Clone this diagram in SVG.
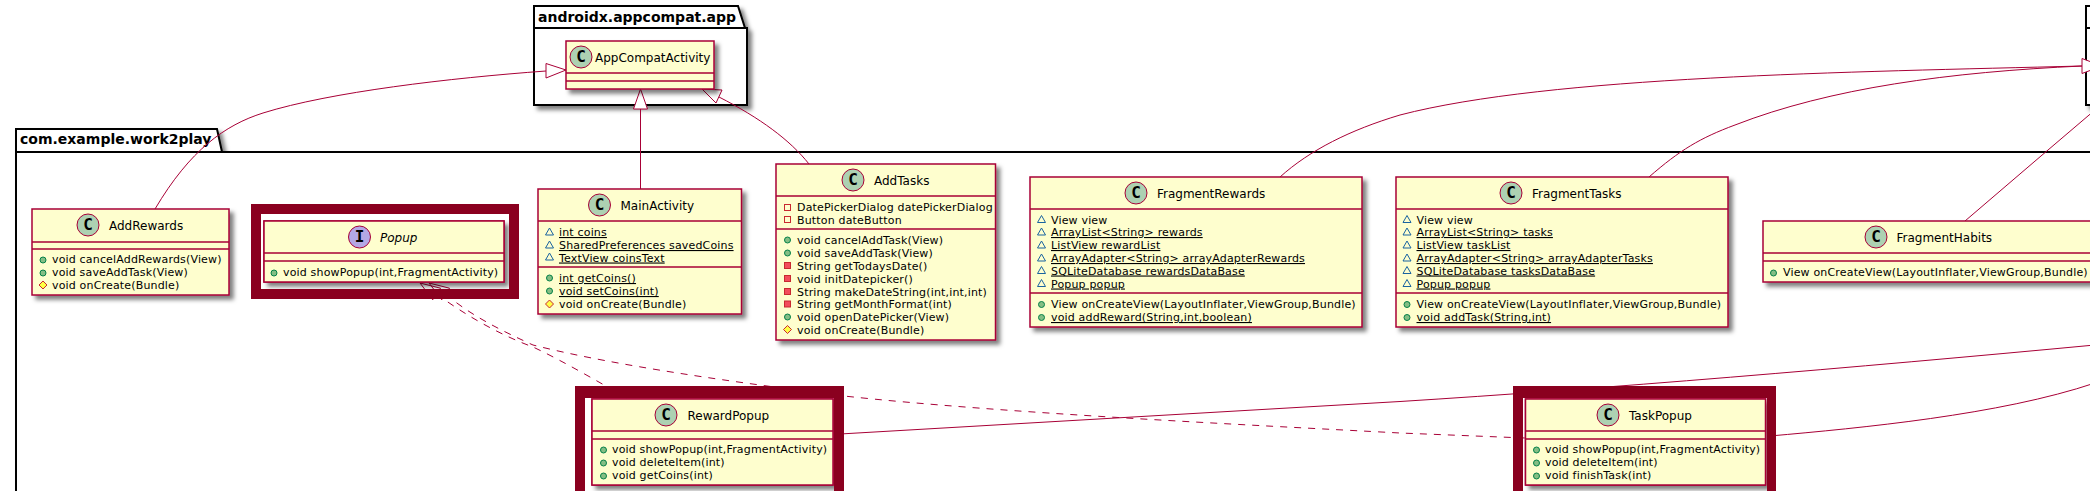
<svg xmlns="http://www.w3.org/2000/svg" width="2090" height="491" viewBox="0 0 2090 491">
<style>
text{font-family:"DejaVu Sans",sans-serif;fill:#000}
.pk{fill:#fff;stroke:#000;stroke-width:2}
.pl{fill:none;stroke:#000;stroke-width:2}
.pt{font-size:14px;font-weight:bold}
.c{fill:#FEFECE;stroke:#A80036;stroke-width:1.5}
.l{stroke:#A80036;stroke-width:1.5;fill:none}
.s{filter:url(#sh)}
.n{font-size:12px}
.i{font-style:italic}
.m{font-size:11px;letter-spacing:.17px}
.u{text-decoration:underline}
.bc{fill:#ADD1B2;stroke:#A80036;stroke-width:1}
.bi{fill:#B4A7E5;stroke:#A80036;stroke-width:1}
.bt{font-family:"DejaVu Sans Mono",monospace;font-size:16px;font-weight:bold;text-anchor:middle}
.e{fill:none;stroke:#A80036;stroke-width:1}
.h{fill:#fff;stroke:#A80036;stroke-width:1}
.d{fill:none;stroke:#A80036;stroke-width:1;stroke-dasharray:7,7}
.o{fill:none;stroke:#A80036;stroke-width:1}
.f{fill:#8A001F;fill-rule:evenodd}
.pub{fill:#84BE84;stroke:#038048;stroke-width:1}
.pro{fill:#FFFF44;stroke:#C82930;stroke-width:1}
.pkg{fill:none;stroke:#1963A0;stroke-width:1}
.prf{fill:none;stroke:#C82930;stroke-width:1}
.prm{fill:#F24D5C;stroke:#C82930;stroke-width:1}
</style>
<defs>
<filter id="sh" x="-5%" y="-5%" width="112%" height="125%"><feDropShadow dx="4" dy="4" stdDeviation="2" flood-color="#000" flood-opacity="0.5"/></filter>
<circle id="ipub" r="3" class="pub"/>
<polygon id="ipro" points="0,-4 4,0 0,4 -4,0" class="pro"/>
<polygon id="ipkg" points="0,-4 4,3 -4,3" class="pkg"/>
<rect id="iprf" x="-3" y="-3" width="6" height="6" class="prf"/>
<rect id="iprm" x="-3" y="-3" width="6" height="6" class="prm"/>
</defs>
<rect width="2090" height="491" fill="#fff"/>

<g id="package-com-example-work2play">
<path class="pk s" d="M16,129 H217 L222,152 H2300 V700 H16 Z"/>
<path class="pl" d="M16,152 H222"/>
<text class="pt" x="20" y="144">com.example.work2play</text>
</g>
<g id="package-androidx-appcompat-app">
<path class="pk s" d="M534,6 H738 L745,28 H747 V105 H534 Z"/>
<path class="pl" d="M534,28 H745"/>
<text class="pt" x="538" y="22">androidx.appcompat.app</text>
</g>
<g id="package-right">
<path class="pk s" d="M2086,6 H2300 V105 H2086 Z"/>
<path class="pl" d="M2086,28 H2300"/>
</g>

<g id="connectors">
<path class="o" d="M155,209 C190,150 225,125 263,113 C330,92 450,78 546,71"/>
<polygon class="h" points="566,70 546,63.5 546,78"/>
<path class="o" d="M640.5,189 V109"/>
<polygon class="h" points="640.5,89 633.5,109 647.5,109"/>
<path class="o" d="M809,164 C790,140 760,118 719,97"/>
<polygon class="h" points="702,89 716,103 722,90"/>
<path class="o" d="M1280,177 C1310,150 1350,130 1400,115 C1550,76 1850,72 2082,66"/>
<path class="o" d="M1649,177 C1680,150 1700,138 1735,125 C1830,88 1950,72 2082,66"/>
<polygon class="h" points="2102,66 2082,58.5 2082,73.5"/>
<path class="o" d="M1965,221 L2048,150 L2095,110"/>
<path class="o" d="M840,434 L1400,401.5 C1600,389 1850,368 2095,345"/>
<path class="o" d="M1770,436 C1860,428 2000,415 2095,383"/>
<path class="d" d="M436.6,294 C465,315 500,335 533,347 C565,362 600,383 629,399"/>
<polygon class="e" points="420,283 432.7,299.8 440.5,288.2"/>
<path class="d" d="M445.6,294 C470,315 500,330 533,345 C600,362 700,378 844,396 C1000,413 1250,425 1400,433 L1525,438"/>
<polygon class="e" points="429,283 441.7,299.8 449.5,288.2"/>
</g>

<g id="AppCompatActivity">
<rect class="c s" x="566" y="41" width="148" height="48"/>
<path class="l" d="M566,73 H714 M566,81 H714"/>
<circle class="bc" cx="581" cy="57" r="11"/><text class="bt" x="581" y="62">C</text>
<text class="n" x="595" y="61.5">AppCompatActivity</text>
</g>

<g id="AddRewards">
<rect class="c s" x="32" y="209" width="197" height="86"/>
<path class="l" d="M32,242 H229 M32,249 H229"/>
<circle class="bc" cx="88" cy="225" r="11"/><text class="bt" x="88" y="230">C</text>
<text class="n" x="109" y="229.5">AddRewards</text>
<use href="#ipub" x="43" y="260"/><text class="m" x="52" y="263">void cancelAddRewards(View)</text>
<use href="#ipub" x="43" y="273"/><text class="m" x="52" y="276">void saveAddTask(View)</text>
<use href="#ipro" x="43" y="285"/><text class="m" x="52" y="289">void onCreate(Bundle)</text>
</g>

<g id="Popup">
<rect class="c s" x="264" y="221" width="240" height="61"/>
<path class="f" d="M251,204 H519 V299 H251 Z M261,214 V289 H509 V214 Z"/>
<rect class="c" x="264" y="221" width="240" height="61"/>
<path class="l" d="M264,253 H504 M264,261 H504"/>
<circle class="bi" cx="359.5" cy="237" r="11"/><text class="bt" x="359.5" y="242">I</text>
<text class="n i" x="380" y="241.5">Popup</text>
<use href="#ipub" x="274" y="273"/><text class="m" x="283" y="276">void showPopup(int,FragmentActivity)</text>
</g>

<g id="MainActivity">
<rect class="c s" x="538" y="189" width="203.500" height="125"/>
<path class="l" d="M538,221 H741.500 M538,267 H741.500"/>
<circle class="bc" cx="599.500" cy="205" r="11"/><text class="bt" x="599.500" y="210">C</text>
<text class="n" x="620.500" y="209.500">MainActivity</text>
<use href="#ipkg" x="549.500" y="232"/><text class="m u" x="559" y="236">int coins</text>
<use href="#ipkg" x="549.500" y="245"/><text class="m u" x="559" y="249">SharedPreferences savedCoins</text>
<use href="#ipkg" x="549.500" y="257"/><text class="m u" x="559" y="261.500">TextView coinsText</text>
<use href="#ipub" x="549.500" y="278"/><text class="m u" x="559" y="282">int getCoins()</text>
<use href="#ipub" x="549.500" y="291"/><text class="m u" x="559" y="295">void setCoins(int)</text>
<use href="#ipro" x="549.500" y="304"/><text class="m" x="559" y="308">void onCreate(Bundle)</text>
</g>

<g id="AddTasks">
<rect class="c s" x="776" y="164" width="219.500" height="176"/>
<path class="l" d="M776,196 H995.500 M776,229 H995.500"/>
<circle class="bc" cx="853" cy="180" r="11"/><text class="bt" x="853" y="185">C</text>
<text class="n" x="874" y="184.500">AddTasks</text>
<use href="#iprf" x="787.500" y="207.500"/><text class="m" x="797" y="211">DatePickerDialog datePickerDialog</text>
<use href="#iprf" x="787.500" y="219.500"/><text class="m" x="797" y="223.500">Button dateButton</text>
<use href="#ipub" x="787.500" y="240"/><text class="m" x="797" y="244">void cancelAddTask(View)</text>
<use href="#ipub" x="787.500" y="253"/><text class="m" x="797" y="257">void saveAddTask(View)</text>
<use href="#iprm" x="787.500" y="265.500"/><text class="m" x="797" y="269.500">String getTodaysDate()</text>
<use href="#iprm" x="787.500" y="278.500"/><text class="m" x="797" y="282.500">void initDatepicker()</text>
<use href="#iprm" x="787.500" y="291.500"/><text class="m" x="797" y="295.500">String makeDateString(int,int,int)</text>
<use href="#iprm" x="787.500" y="304"/><text class="m" x="797" y="308">String getMonthFormat(int)</text>
<use href="#ipub" x="787.500" y="317"/><text class="m" x="797" y="321">void openDatePicker(View)</text>
<use href="#ipro" x="787.500" y="329.500"/><text class="m" x="797" y="333.500">void onCreate(Bundle)</text>
</g>

<g id="FragmentRewards">
<rect class="c s" x="1030" y="177" width="332" height="150"/>
<path class="l" d="M1030,209 H1362 M1030,293 H1362"/>
<circle class="bc" cx="1136" cy="193" r="11"/><text class="bt" x="1136" y="198">C</text>
<text class="n" x="1157" y="197.500">FragmentRewards</text>
<use href="#ipkg" x="1041.500" y="219.500"/><text class="m" x="1051" y="223.500">View view</text>
<use href="#ipkg" x="1041.500" y="232"/><text class="m u" x="1051" y="236">ArrayList&lt;String&gt; rewards</text>
<use href="#ipkg" x="1041.500" y="245"/><text class="m u" x="1051" y="249">ListView rewardList</text>
<use href="#ipkg" x="1041.500" y="258"/><text class="m u" x="1051" y="262">ArrayAdapter&lt;String&gt; arrayAdapterRewards</text>
<use href="#ipkg" x="1041.500" y="270.500"/><text class="m u" x="1051" y="274.500">SQLiteDatabase rewardsDataBase</text>
<use href="#ipkg" x="1041.500" y="283.500"/><text class="m u" x="1051" y="287.500">Popup popup</text>
<use href="#ipub" x="1041.500" y="304.500"/><text class="m" x="1051" y="308">View onCreateView(LayoutInflater,ViewGroup,Bundle)</text>
<use href="#ipub" x="1041.500" y="317.500"/><text class="m u" x="1051" y="321">void addReward(String,int,boolean)</text>
</g>

<g id="FragmentTasks">
<rect class="c s" x="1396" y="177" width="332" height="150"/>
<path class="l" d="M1396,209 H1728 M1396,293 H1728"/>
<circle class="bc" cx="1511" cy="193" r="11"/><text class="bt" x="1511" y="198">C</text>
<text class="n" x="1532" y="197.500">FragmentTasks</text>
<use href="#ipkg" x="1407" y="219.500"/><text class="m" x="1416.500" y="223.500">View view</text>
<use href="#ipkg" x="1407" y="232"/><text class="m u" x="1416.500" y="236">ArrayList&lt;String&gt; tasks</text>
<use href="#ipkg" x="1407" y="245"/><text class="m u" x="1416.500" y="249">ListView taskList</text>
<use href="#ipkg" x="1407" y="258"/><text class="m u" x="1416.500" y="262">ArrayAdapter&lt;String&gt; arrayAdapterTasks</text>
<use href="#ipkg" x="1407" y="270.500"/><text class="m u" x="1416.500" y="274.500">SQLiteDatabase tasksDataBase</text>
<use href="#ipkg" x="1407" y="283.500"/><text class="m u" x="1416.500" y="287.500">Popup popup</text>
<use href="#ipub" x="1407" y="304.500"/><text class="m" x="1416.500" y="308">View onCreateView(LayoutInflater,ViewGroup,Bundle)</text>
<use href="#ipub" x="1407" y="317.500"/><text class="m u" x="1416.500" y="321">void addTask(String,int)</text>
</g>

<g id="FragmentHabits">
<rect class="c s" x="1763" y="221" width="332" height="61"/>
<path class="l" d="M1763,253 H2095 M1763,261 H2095"/>
<circle class="bc" cx="1876" cy="237" r="11"/><text class="bt" x="1876" y="242">C</text>
<text class="n" x="1896.500" y="241.500">FragmentHabits</text>
<use href="#ipub" x="1773.500" y="273"/><text class="m" x="1783" y="276">View onCreateView(LayoutInflater,ViewGroup,Bundle)</text>
</g>

<g id="RewardPopup">
<rect class="c s" x="592" y="399" width="241" height="86"/>
<path class="f" d="M575,386 H844 V520 H575 Z M585,398 V520 H834 V398 Z"/>
<rect class="c" x="592" y="399" width="241" height="86"/>
<path class="l" d="M592,431 H833 M592,439 H833"/>
<circle class="bc" cx="666" cy="415" r="11"/><text class="bt" x="666" y="420">C</text>
<text class="n" x="687.500" y="419.500">RewardPopup</text>
<use href="#ipub" x="603.500" y="450"/><text class="m" x="612" y="453">void showPopup(int,FragmentActivity)</text>
<use href="#ipub" x="603.500" y="463"/><text class="m" x="612" y="466">void deleteItem(int)</text>
<use href="#ipub" x="603.500" y="476"/><text class="m" x="612" y="479">void getCoins(int)</text>
</g>

<g id="TaskPopup">
<rect class="c s" x="1525.500" y="399" width="240" height="86"/>
<path class="f" d="M1513,386 H1776 V520 H1513 Z M1523,398 V520 H1767 V398 Z"/>
<rect class="c" x="1525.500" y="399" width="240" height="86"/>
<path class="l" d="M1525.500,431 H1765.500 M1525.500,439 H1765.500"/>
<circle class="bc" cx="1608" cy="415" r="11"/><text class="bt" x="1608" y="420">C</text>
<text class="n" x="1629" y="419.500">TaskPopup</text>
<use href="#ipub" x="1536.500" y="450"/><text class="m" x="1545" y="453">void showPopup(int,FragmentActivity)</text>
<use href="#ipub" x="1536.500" y="463"/><text class="m" x="1545" y="466">void deleteItem(int)</text>
<use href="#ipub" x="1536.500" y="476"/><text class="m" x="1545" y="479">void finishTask(int)</text>
</g>
</svg>
